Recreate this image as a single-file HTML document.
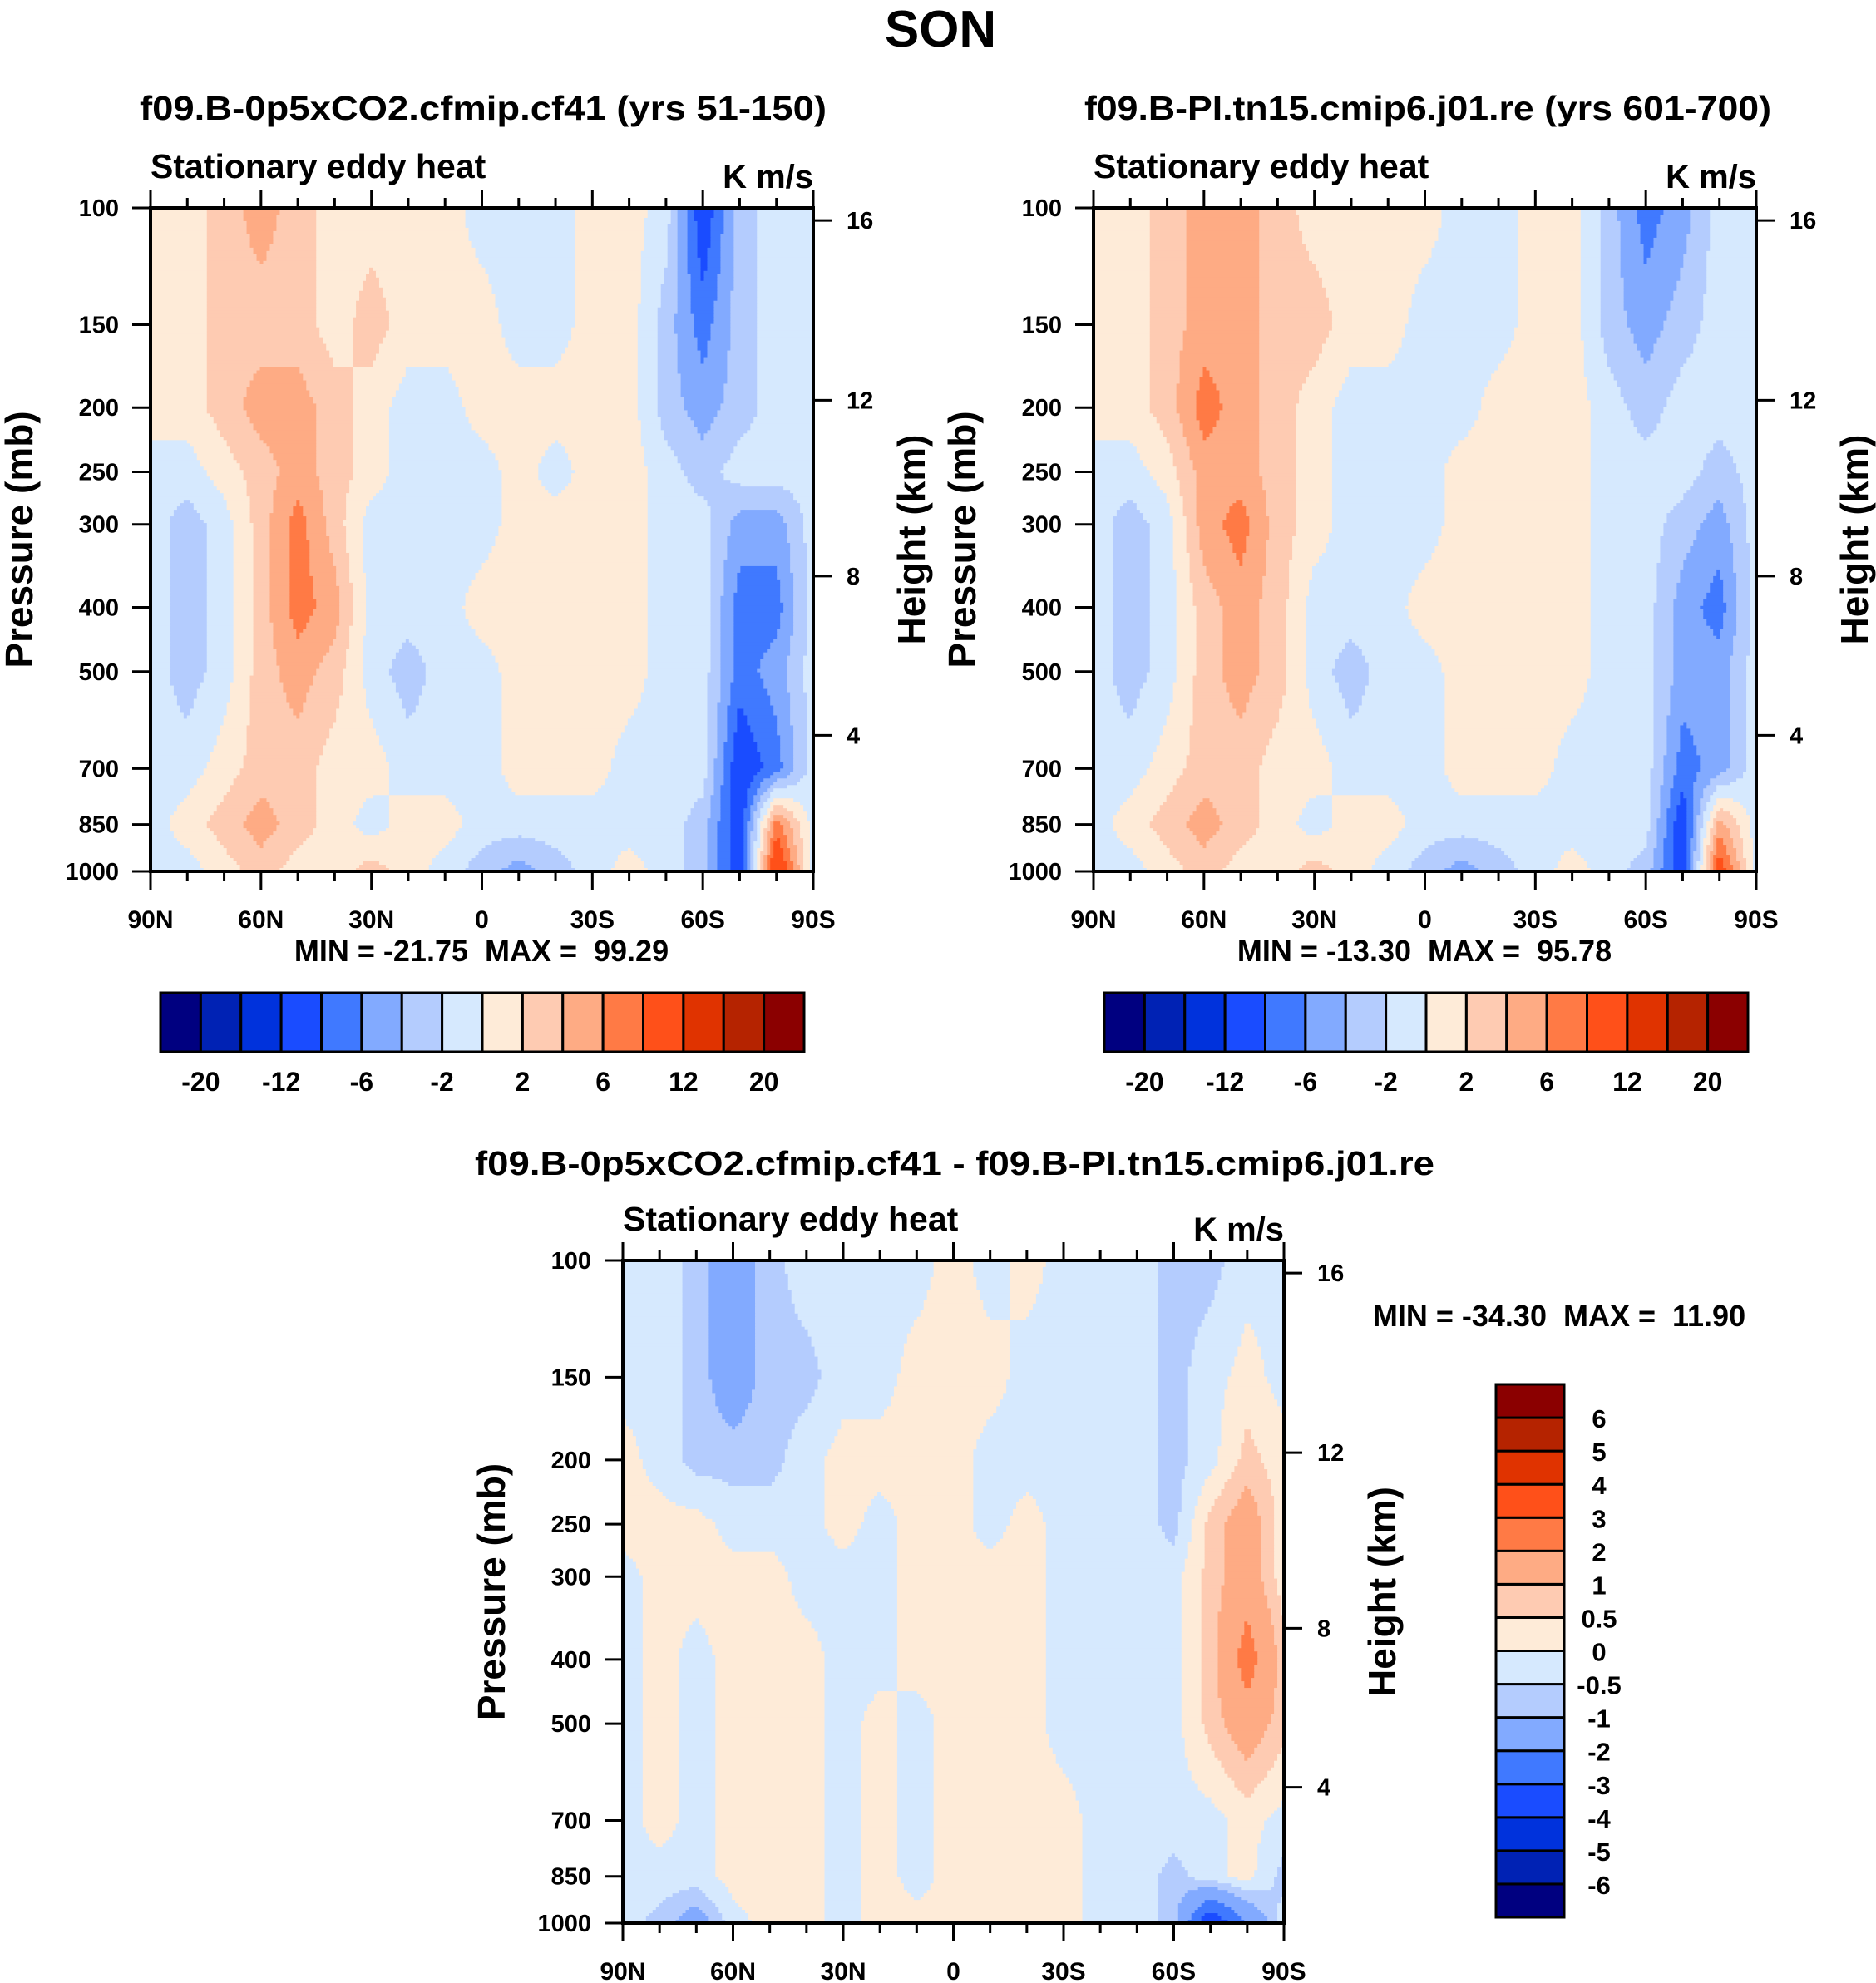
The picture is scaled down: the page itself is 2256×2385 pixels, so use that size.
<!DOCTYPE html>
<html><head><meta charset="utf-8">
<style>
html,body{margin:0;padding:0;background:#fff;}
svg{display:block;font-family:"Liberation Sans",sans-serif;font-weight:bold;}
</style></head>
<body>
<svg id="fig" width="2256" height="2385" viewBox="0 0 2256 2385" xmlns="http://www.w3.org/2000/svg">
<text x="1131" y="56" font-size="62" text-anchor="middle">SON</text>
<text x="581" y="144" font-size="41" text-anchor="middle" textLength="826" lengthAdjust="spacingAndGlyphs">f09.B-0p5xCO2.cfmip.cf41 (yrs 51-150)</text>
<text x="1717" y="144" font-size="41" text-anchor="middle" textLength="826" lengthAdjust="spacingAndGlyphs">f09.B-PI.tn15.cmip6.j01.re (yrs 601-700)</text>
<text x="1148" y="1413" font-size="41" text-anchor="middle" textLength="1154" lengthAdjust="spacingAndGlyphs">f09.B-0p5xCO2.cfmip.cf41 - f09.B-PI.tn15.cmip6.j01.re</text>
<g id="p1"></g>
<g id="p2"></g>
<g id="p3"></g>
<g id="cb1"></g>
<g id="cb2"></g>
<g id="cb3"></g>
<text x="579" y="1156" font-size="36" text-anchor="middle" xml:space="preserve">MIN = -21.75  MAX =  99.29</text>
<text x="1713" y="1156" font-size="36" text-anchor="middle" xml:space="preserve">MIN = -13.30  MAX =  95.78</text>
<text x="1875" y="1595" font-size="36" text-anchor="middle" xml:space="preserve">MIN = -34.30  MAX =  11.90</text>
</svg>
<script>
const NS="http://www.w3.org/2000/svg";
const latLabels=["90N","60N","30N","0","30S","60S","90S"];
const pressureLevels=[100,150,200,250,300,400,500,700,850,1000];
const heightLabels=["16","12","8","4"];
const heightFrac=[0.019,0.29,0.555,0.795];
const colors=["#000080","#0022b4","#0032dc","#1a4cff","#4079ff","#82aaff","#b4ccfe","#d6e9fe","#feebd8","#fecbb2","#feab84","#ff7a45","#ff5019","#e03300","#b52300","#8b0000"];
const bounds12=[-20,-16,-12,-8,-6,-4,-2,0,2,4,6,8,12,16,20];
const cbLabels12=["-20","-12","-6","-2","2","6","12","20"];
const bounds3=[-6,-5,-4,-3,-2,-1,-0.5,0,0.5,1,2,3,4,5,6];
const cbLabels3=["-6","-5","-4","-3","-2","-1","-0.5","0","0.5","1","2","3","4","5","6"];
// rows: pressure levels; columns: 90N..90S every 10 deg
const field1=[
[1,1,3,5,3,1,1,1,1,-1,-1,-1,1,1,-1,-10,-3,-1,-1],
[1,1,3,3,3,1,3,1,1,1,-1,-1,1,1,-3,-7,-3,-1,-1],
[1,1,3,5,5,3,1,-1,-1,1,1,1,1,1,-3,-5,-3,-1,-1],
[-1,-1,1,3,5,3,1,-1,-1,-1,1,-1,1,1,-1,-3,-1,-1,-1],
[-1,-3,-1,3,7,3,-1,-1,-1,-1,1,1,1,1,-1,-1,-5,-5,-1],
[-1,-3,-1,3,7,5,-1,-1,-1,1,1,1,1,1,-1,-1,-7,-7,-1],
[-1,-3,-1,3,5,3,-1,-3,-1,-1,1,1,1,1,-1,-1,-7,-5,-1],
[-1,-1,1,3,3,1,1,-1,-1,-1,1,1,1,-1,-1,-1,-10,-7,-1],
[-1,1,3,5,3,1,-1,1,1,-1,-1,-1,-1,-1,-1,-3,-10,7,-1],
[-1,-1,1,3,1,1,3,1,-1,-3,-5,-3,-1,1,-1,-3,-10,12,-1]];
const field2=[
[1,1,3,5,5,3,1,1,1,1,-1,-1,1,1,-3,-7,-5,-1,-1],
[1,1,3,5,5,3,3,1,1,-1,-1,-1,1,1,-3,-5,-3,-1,-1],
[1,1,3,7,5,3,1,-1,-1,-1,-1,1,1,1,-1,-3,-1,-1,-1],
[-1,-1,1,5,5,3,1,-1,-1,-1,1,1,1,1,-1,-1,-1,-3,-1],
[-1,-3,-1,5,7,3,1,-1,-1,-1,1,1,1,1,-1,-1,-3,-5,-1],
[-1,-3,-1,3,5,3,-1,-1,-1,1,1,1,1,1,-1,-1,-5,-7,-1],
[-1,-3,-1,3,5,3,-1,-3,-1,-1,1,1,1,1,-1,-1,-5,-5,-1],
[-1,-1,1,3,3,1,1,-1,-1,-1,1,1,1,-1,-1,-1,-7,-5,-1],
[-1,1,3,5,3,1,-1,1,1,-1,-1,-1,-1,-1,-1,-1,-10,5,-1],
[-1,-1,1,3,1,1,3,1,-1,-3,-5,-3,-1,1,-1,-3,-10,10,-1]];
const field3=[
[-0.2,-0.2,-0.7,-1.5,-0.7,-0.2,-0.2,-0.2,-0.2,0.2,-0.2,0.2,-0.2,-0.2,-0.2,-0.7,-0.7,-0.2,-0.2],
[-0.2,-0.2,-0.7,-1.5,-0.7,-0.7,-0.2,-0.2,0.2,0.2,0.2,-0.2,-0.2,-0.2,-0.2,-0.7,-0.2,0.2,-0.2],
[0.2,-0.2,-0.7,-0.7,-0.7,-0.2,0.2,0.2,0.2,0.2,-0.2,-0.2,-0.2,-0.2,-0.2,-0.7,-0.2,0.7,0.2],
[0.2,0.2,0.2,-0.2,-0.2,-0.2,0.2,-0.2,0.2,0.2,-0.2,0.2,-0.2,-0.2,-0.2,-0.7,0.7,1.5,0.2],
[-0.2,0.2,0.2,0.2,0.2,-0.2,-0.2,-0.2,0.2,0.2,0.2,0.2,-0.2,-0.2,-0.2,-0.2,0.7,1.5,0.2],
[-0.2,0.2,-0.2,0.2,0.2,0.2,-0.2,-0.2,0.2,0.2,0.2,0.2,-0.2,-0.2,-0.2,-0.2,0.7,2.5,0.7],
[-0.2,0.2,-0.2,0.2,0.2,0.2,-0.2,0.2,-0.2,0.2,0.2,0.2,-0.2,-0.2,-0.2,-0.2,0.7,1.5,0.7],
[-0.2,0.2,-0.2,0.2,0.2,0.2,-0.2,0.2,-0.2,0.2,0.2,0.2,0.2,-0.2,-0.2,-0.2,-0.2,0.2,-0.2],
[-0.2,-0.2,-0.2,0.2,0.2,0.2,-0.2,0.2,-0.2,0.2,0.2,0.2,0.2,-0.2,-0.2,-0.7,-0.2,0.2,-0.7],
[-0.2,-0.7,-1.5,-0.2,0.2,0.2,-0.2,0.2,0.2,0.2,0.2,0.2,0.2,-0.2,-0.2,-0.7,-4,-2,-0.2]];

function mk(tag,attrs,parent){const e=document.createElementNS(NS,tag);for(const k in attrs)e.setAttribute(k,attrs[k]);parent.appendChild(e);return e;}
function colorIdx(v,b){let i=0;while(i<b.length&&v>=b[i])i++;return i;}
function sample(field,latFrac,logp){
  const nc=field[0].length;const cx=latFrac*(nc-1);const c0=Math.min(nc-2,Math.floor(cx));const tx=cx-c0;
  const lp=pressureLevels.map(p=>Math.log10(p));
  let r0=0;while(r0<lp.length-2&&logp>lp[r0+1])r0++;
  let ty=(logp-lp[r0])/(lp[r0+1]-lp[r0]);ty=Math.max(0,Math.min(1,ty));
  const a=field[r0][c0]*(1-tx)+field[r0][c0+1]*tx;
  const b=field[r0+1][c0]*(1-tx)+field[r0+1][c0+1]*tx;
  return a*(1-ty)+b*ty;
}
function panel(gid,x0,y0,w,h,field,bounds,name){
  const g=document.getElementById(gid);
  const xS=lat=>x0+w*(90-lat)/180;
  const yS=p=>y0+h*Math.log10(p/100);
  const nx=200,ny=200,cw=w/nx,ch=h/ny;
  for(let j=0;j<ny;j++){
    const logp=2+(j+0.5)/ny;
    let run=-1,start=0;
    for(let i=0;i<=nx;i++){
      const ci=i<nx?colorIdx(sample(field,(i+0.5)/nx,logp),bounds):-2;
      if(ci!==run){
        if(run>=0){const r=mk('rect',{x:(x0+start*cw).toFixed(2),y:(y0+j*ch).toFixed(2),width:((i-start)*cw+0.6).toFixed(2),height:(ch+0.6).toFixed(2),fill:colors[run]},g);
          
          }
        run=ci;start=i;
      }
    }
  }
  const fr=mk('rect',{x:x0,y:y0,width:w,height:h,fill:'none',stroke:'#000','stroke-width':4},g);
  
  
  for(let lat=90;lat>=-90;lat-=10){
    const x=xS(lat);const major=(lat%30===0);const L=major?22:12;
    mk('line',{x1:x,y1:y0,x2:x,y2:y0-L,stroke:'#000','stroke-width':3},g);
    mk('line',{x1:x,y1:y0+h,x2:x,y2:y0+h+L,stroke:'#000','stroke-width':3},g);
  }
  latLabels.forEach((t,k)=>{const x=xS(90-k*30);
    const e=mk('text',{x:x,y:y0+h+68,'font-size':30,'text-anchor':'middle'},g);e.textContent=t;
    
    });
  pressureLevels.forEach(p=>{const y=yS(p);
    mk('line',{x1:x0,y1:y,x2:x0-22,y2:y,stroke:'#000','stroke-width':3},g);
    const e=mk('text',{x:x0-38,y:y+10,'font-size':29,'text-anchor':'end'},g);e.textContent=p;
    
    });
  heightLabels.forEach((t,k)=>{const y=y0+h*heightFrac[k];
    mk('line',{x1:x0+w,y1:y,x2:x0+w+22,y2:y,stroke:'#000','stroke-width':3},g);
    const e=mk('text',{x:x0+w+40,y:y+10,'font-size':29},g);e.textContent=t;
    
    });
  let e=mk('text',{x:x0,y:y0-36,'font-size':41},g);e.textContent='Stationary eddy heat';
  
  
  e=mk('text',{x:x0+w,y:y0-24,'font-size':40,'text-anchor':'end'},g);e.textContent='K m/s';
  
  
  const cy=y0+h*0.5;
  e=mk('text',{x:x0-158,y:cy,'font-size':46,'text-anchor':'middle',transform:`rotate(-90 ${x0-158} ${cy}) translate(0 16)`},g);e.textContent='Pressure (mb)';
  
  
  e=mk('text',{x:x0+w+118,y:cy,'font-size':46,'text-anchor':'middle',transform:`rotate(-90 ${x0+w+118} ${cy}) translate(0 16)`},g);e.textContent='Height (km)';
  
  
}
function hbar(gid,x0,y0,w,h,bounds,labels){
  const g=document.getElementById(gid);const bw=w/colors.length;
  colors.forEach((c,i)=>{const r=mk('rect',{x:x0+i*bw,y:y0,width:bw,height:h,fill:c,stroke:'#000','stroke-width':3},g);
    
    });
  labels.forEach(t=>{const k=bounds.indexOf(parseFloat(t));const x=x0+(k+1)*bw;
    const e=mk('text',{x:x,y:y0+h+47,'font-size':32,'text-anchor':'middle'},g);e.textContent=t;
    
    });
}
function vbar(gid,x0,y0,w,h,bounds,labels){
  const g=document.getElementById(gid);const n=colors.length;const bh=h/n;
  colors.forEach((c,i)=>{const r=mk('rect',{x:x0,y:y0+(n-1-i)*bh,width:w,height:bh,fill:c,stroke:'#000','stroke-width':3},g);
    
    });
  labels.forEach(t=>{const k=bounds.indexOf(parseFloat(t));const y=y0+(n-1-k)*bh;
    const e=mk('text',{x:x0+w+42,y:y+12,'font-size':31,'text-anchor':'middle'},g);e.textContent=t;
    
    });
}
panel('p1',181,250,797,798,field1,bounds12,'panel1');
panel('p2',1315,250,797,798,field2,bounds12,'panel2');
panel('p3',749,1516,795,797,field3,bounds3,'panel3');
hbar('cb1',193,1194,774,71,bounds12,cbLabels12);
hbar('cb2',1328,1194,774,71,bounds12,cbLabels12);
vbar('cb3',1799,1665,82,641,bounds3,cbLabels3);
</script>
</body></html>
